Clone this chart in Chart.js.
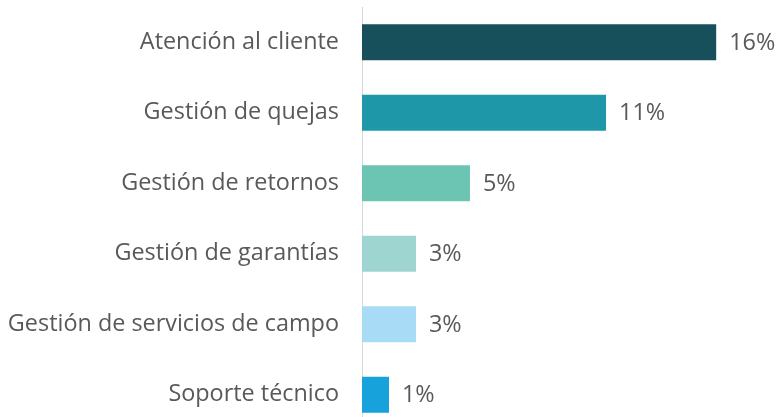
<!DOCTYPE html>
<html>
<head>
<meta charset="utf-8">
<script src="https://cdn.jsdelivr.net/npm/chart.js@4"></script>
<style>
    html, body { margin: 0; padding: 0; background: #ffffff; overflow: hidden; }
    #wrap { position: relative; width: 776px; height: 430px; }
</style>
</head>
<body>
<div id="wrap"><canvas id="barChart"></canvas></div>
<script>
const categories = [
    'Atención al cliente',
    'Gestión de quejas',
    'Gestión de retornos',
    'Gestión de garantías',
    'Gestión de servicios de campo',
    'Soporte técnico'
];
const values = [16.4, 11.3, 5.0, 2.5, 2.5, 1.25];
const valueLabels = ['16%', '11%', '5%', '3%', '3%', '1%'];
const barColors = ['#174f5b', '#1e98a8', '#6cc5b3', '#9fd5d0', '#a7dbf6', '#17a2dc'];

const fontFamily = "'Open Sans', sans-serif";
const textColor = '#595959';

// percentage labels to the right of each bar
const valueLabelPlugin = {
    id: 'valueLabels',
    afterDatasetsDraw(chart) {
        const ctx = chart.ctx;
        const meta = chart.getDatasetMeta(0);
        ctx.save();
        ctx.font = '23.4px ' + fontFamily;
        ctx.fillStyle = textColor;
        ctx.textAlign = 'left';
        ctx.textBaseline = 'middle';
        meta.data.forEach((bar, i) => {
            ctx.fillText(valueLabels[i], bar.x + 13, bar.y + 1);
        });
        ctx.restore();
    }
};

function initChart() {
    new Chart(document.getElementById('barChart'), {
        type: 'bar',
        data: {
            labels: categories,
            datasets: [{
                data: values,
                backgroundColor: barColors,
                borderWidth: 0,
                categoryPercentage: 1,
                barPercentage: 0.51
            }]
        },
        options: {
            indexAxis: 'y',
            responsive: true,
            maintainAspectRatio: false,
            animation: false,
            layout: { padding: { top: 7, right: 0, bottom: 0, left: 0 } },
            plugins: {
                legend: { display: false },
                tooltip: { enabled: false }
            },
            scales: {
                x: {
                    display: false,
                    min: 0,
                    max: 19.17
                },
                y: {
                    grid: { display: false, drawTicks: false },
                    border: { color: '#d9d9d9', width: 1 },
                    ticks: {
                        color: textColor,
                        font: { size: 23.4, family: fontFamily },
                        padding: 23
                    },
                    afterFit(scale) {
                        scale.width = 362;
                        scale.paddingTop = 0;
                        scale.paddingBottom = 0;
                    }
                }
            }
        },
        plugins: [valueLabelPlugin]
    });
}

if (document.readyState === 'loading') {
    document.addEventListener('DOMContentLoaded', initChart);
} else {
    initChart();
}
</script>
</body>
</html>
